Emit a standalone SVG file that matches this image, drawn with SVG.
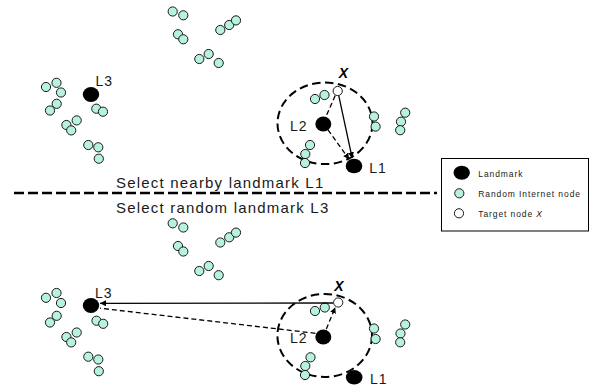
<svg xmlns="http://www.w3.org/2000/svg" width="592" height="390" viewBox="0 0 592 390">
  <style>
    .inet { fill: #b6f2dc; stroke: #1a1a1a; stroke-width: 1; }
    .target { fill: #ffffff; stroke: #1a1a1a; stroke-width: 1; }
    .lm { fill: #000000; }
    .range { fill: none; stroke: #000000; stroke-width: 2; stroke-dasharray: 8.5 4.5; }
    .solid { fill: none; stroke: #000000; stroke-width: 1.3; }
    .dash { fill: none; stroke: #000000; stroke-width: 1.3; stroke-dasharray: 5 3; }
    .lbl { font-family: "Liberation Sans", Arial, sans-serif; font-size: 14px; letter-spacing: 1px; fill: #1a1a1a; }
    .xl { font-family: "Liberation Sans", Arial, sans-serif; font-size: 14px; font-weight: bold; font-style: italic; fill: #000000; text-anchor: middle; }
    .cap { font-family: "Liberation Sans", Arial, sans-serif; font-size: 15px; letter-spacing: 1.2px; fill: #1a1a1a; }
    .leg { font-family: "Liberation Sans", Arial, sans-serif; font-size: 8.5px; letter-spacing: 0.9px; fill: #1a1a1a; }
  </style>
  <defs>
    <marker id="arrow" viewBox="0 0 10 10" refX="10" refY="5" markerWidth="6" markerHeight="6" markerUnits="userSpaceOnUse" orient="auto">
      <path d="M0,0 L10,5 L0,10 z" fill="#000000"/>
    </marker>
  </defs>

  <!-- ===== upper scenario: nearby landmark ===== -->
  <g id="upper-cluster-top">
    <circle class="inet" cx="172.7" cy="11.5" r="4.6"/>
    <circle class="inet" cx="183.3" cy="15.3" r="4.6"/>
    <circle class="inet" cx="178" cy="34.3" r="4.6"/>
    <circle class="inet" cx="183.3" cy="39.3" r="4.6"/>
    <circle class="inet" cx="220.3" cy="30" r="4.6"/>
    <circle class="inet" cx="229.2" cy="25" r="4.6"/>
    <circle class="inet" cx="236" cy="20.4" r="4.6"/>
    <circle class="inet" cx="199.3" cy="59" r="4.6"/>
    <circle class="inet" cx="208.7" cy="54" r="4.6"/>
    <circle class="inet" cx="218.7" cy="63" r="4.6"/>
  </g>
  <g id="upper-cluster-left">
    <circle class="inet" cx="46" cy="87" r="4.6"/>
    <circle class="inet" cx="56.5" cy="82.8" r="4.6"/>
    <circle class="inet" cx="61" cy="92.5" r="4.6"/>
    <circle class="inet" cx="56.7" cy="103.8" r="4.6"/>
    <circle class="inet" cx="50" cy="110.5" r="4.6"/>
    <circle class="inet" cx="76.7" cy="120.4" r="4.6"/>
    <circle class="inet" cx="66.4" cy="125" r="4.6"/>
    <circle class="inet" cx="71.2" cy="130.4" r="4.6"/>
    <circle class="inet" cx="88.3" cy="145" r="4.6"/>
    <circle class="inet" cx="98.3" cy="147.3" r="4.6"/>
    <circle class="inet" cx="98.8" cy="158.7" r="4.6"/>
    <circle class="inet" cx="96.3" cy="108.7" r="4.6"/>
    <circle class="inet" cx="103" cy="111.7" r="4.6"/>
  </g>
  <g id="upper-L3">
    <ellipse class="lm" cx="91" cy="94.5" rx="8.2" ry="7.6"/>
    <text class="lbl" x="95.5" y="86">L3</text>
  </g>
  <g id="upper-range">
    <ellipse class="range" cx="325" cy="123.3" rx="47.5" ry="40.8"/>
  </g>
  <g id="upper-cluster-right">
    <circle class="inet" cx="315" cy="99" r="4.6"/>
    <circle class="inet" cx="324.5" cy="95" r="4.6"/>
    <circle class="inet" cx="374" cy="116.5" r="4.6"/>
    <circle class="inet" cx="375.6" cy="126.6" r="4.6"/>
    <circle class="inet" cx="405.2" cy="112.7" r="4.6"/>
    <circle class="inet" cx="401" cy="121.7" r="4.6"/>
    <circle class="inet" cx="400.2" cy="130.2" r="4.6"/>
    <circle class="inet" cx="310" cy="145" r="4.6"/>
    <circle class="inet" cx="305.3" cy="154" r="4.6"/>
    <circle class="inet" cx="305" cy="163" r="4.6"/>
  </g>
  <g id="upper-connectors">
    <line class="solid" x1="338.8" y1="95.9" x2="352.2" y2="158.2" marker-end="url(#arrow)"/>
    <line class="dash" x1="335.2" y1="95.6" x2="326" y2="116.5"/>
    <line class="dash" x1="328" y1="129.8" x2="349.2" y2="159.3" marker-end="url(#arrow)"/>
  </g>
  <g id="upper-X">
    <circle class="target" cx="337.7" cy="91" r="4.6"/>
    <text class="xl" x="343.3" y="77.5">X</text>
  </g>
  <g id="upper-L2">
    <ellipse class="lm" cx="323.3" cy="124" rx="8" ry="7.6"/>
    <text class="lbl" x="290" y="131">L2</text>
  </g>
  <g id="upper-L1">
    <ellipse class="lm" cx="354" cy="166" rx="8.3" ry="7.3"/>
    <text class="lbl" x="369.3" y="173.3">L1</text>
  </g>

  <!-- ===== divider and captions ===== -->
  <g id="divider">
    <line x1="14" y1="193" x2="437" y2="193" stroke="#000000" stroke-width="2.5" stroke-dasharray="10 4"/>
    <text class="cap" x="116" y="188">Select nearby landmark L1</text>
    <text class="cap" x="116" y="212.5">Select random landmark L3</text>
  </g>

  <!-- ===== legend ===== -->
  <g id="legend">
    <rect x="441.5" y="158.5" width="147" height="72.5" fill="#ffffff" stroke="#000000" stroke-width="1"/>
    <ellipse class="lm" cx="461.7" cy="172.7" rx="8.2" ry="7"/>
    <text class="leg" x="478.3" y="176.7">Landmark</text>
    <circle class="inet" cx="459.3" cy="193.3" r="4.6"/>
    <text class="leg" x="478.3" y="196.7">Random  Internet node</text>
    <circle class="target" cx="459" cy="213.3" r="4.6"/>
    <text class="leg" x="478.3" y="216.7">Target node <tspan font-style="italic">X</tspan></text>
  </g>

  <!-- ===== lower scenario: random landmark ===== -->
  <g id="lower-cluster-top">
    <circle class="inet" cx="172.7" cy="223.3" r="4.6"/>
    <circle class="inet" cx="183.3" cy="227.5" r="4.6"/>
    <circle class="inet" cx="178" cy="246" r="4.6"/>
    <circle class="inet" cx="183.3" cy="251.5" r="4.6"/>
    <circle class="inet" cx="220.3" cy="242.5" r="4.6"/>
    <circle class="inet" cx="229.2" cy="237.3" r="4.6"/>
    <circle class="inet" cx="236" cy="232.6" r="4.6"/>
    <circle class="inet" cx="199.3" cy="271" r="4.6"/>
    <circle class="inet" cx="208.7" cy="266" r="4.6"/>
    <circle class="inet" cx="218.7" cy="275.2" r="4.6"/>
  </g>
  <g id="lower-cluster-left">
    <circle class="inet" cx="46" cy="297.8" r="4.6"/>
    <circle class="inet" cx="56.5" cy="293" r="4.6"/>
    <circle class="inet" cx="61" cy="303" r="4.6"/>
    <circle class="inet" cx="56.7" cy="315.8" r="4.6"/>
    <circle class="inet" cx="50" cy="322.5" r="4.6"/>
    <circle class="inet" cx="76.7" cy="332.5" r="4.6"/>
    <circle class="inet" cx="66.4" cy="337" r="4.6"/>
    <circle class="inet" cx="71.2" cy="342.4" r="4.6"/>
    <circle class="inet" cx="88.3" cy="356.7" r="4.6"/>
    <circle class="inet" cx="98.3" cy="359.5" r="4.6"/>
    <circle class="inet" cx="98.8" cy="371.2" r="4.6"/>
    <circle class="inet" cx="96.5" cy="320.7" r="4.6"/>
    <circle class="inet" cx="103.2" cy="323.8" r="4.6"/>
  </g>
  <g id="lower-range">
    <ellipse class="range" cx="324.7" cy="335.5" rx="47.3" ry="41.5"/>
  </g>
  <g id="lower-cluster-right">
    <circle class="inet" cx="315" cy="311" r="4.6"/>
    <circle class="inet" cx="324.8" cy="307.5" r="4.6"/>
    <circle class="inet" cx="374" cy="328.5" r="4.6"/>
    <circle class="inet" cx="375.6" cy="339" r="4.6"/>
    <circle class="inet" cx="405.2" cy="324.5" r="4.6"/>
    <circle class="inet" cx="400.5" cy="333.5" r="4.6"/>
    <circle class="inet" cx="400.2" cy="342.3" r="4.6"/>
    <circle class="inet" cx="310.5" cy="357.3" r="4.6"/>
    <circle class="inet" cx="305.3" cy="366" r="4.6"/>
    <circle class="inet" cx="305" cy="375" r="4.6"/>
  </g>
  <g id="lower-connectors">
    <line class="solid" x1="333.2" y1="303" x2="100" y2="303.3" marker-end="url(#arrow)"/>
    <line class="dash" x1="315.5" y1="333.3" x2="100" y2="308.2"/>
    <line class="dash" x1="326.3" y1="329" x2="335.3" y2="307.3" marker-end="url(#arrow)"/>
  </g>
  <g id="lower-L3">
    <ellipse class="lm" cx="91" cy="305.5" rx="8.2" ry="7.6"/>
    <text class="lbl" x="95" y="298.3">L3</text>
  </g>
  <g id="lower-X">
    <circle class="target" cx="338.2" cy="302.5" r="4.6"/>
    <text class="xl" x="339" y="290.5">X</text>
  </g>
  <g id="lower-L2">
    <ellipse class="lm" cx="323.3" cy="337" rx="8" ry="7.6"/>
    <text class="lbl" x="290" y="342.7">L2</text>
  </g>
  <g id="lower-L1">
    <ellipse class="lm" cx="354.2" cy="377.3" rx="8.3" ry="7.3"/>
    <text class="lbl" x="370" y="384">L1</text>
  </g>
</svg>
